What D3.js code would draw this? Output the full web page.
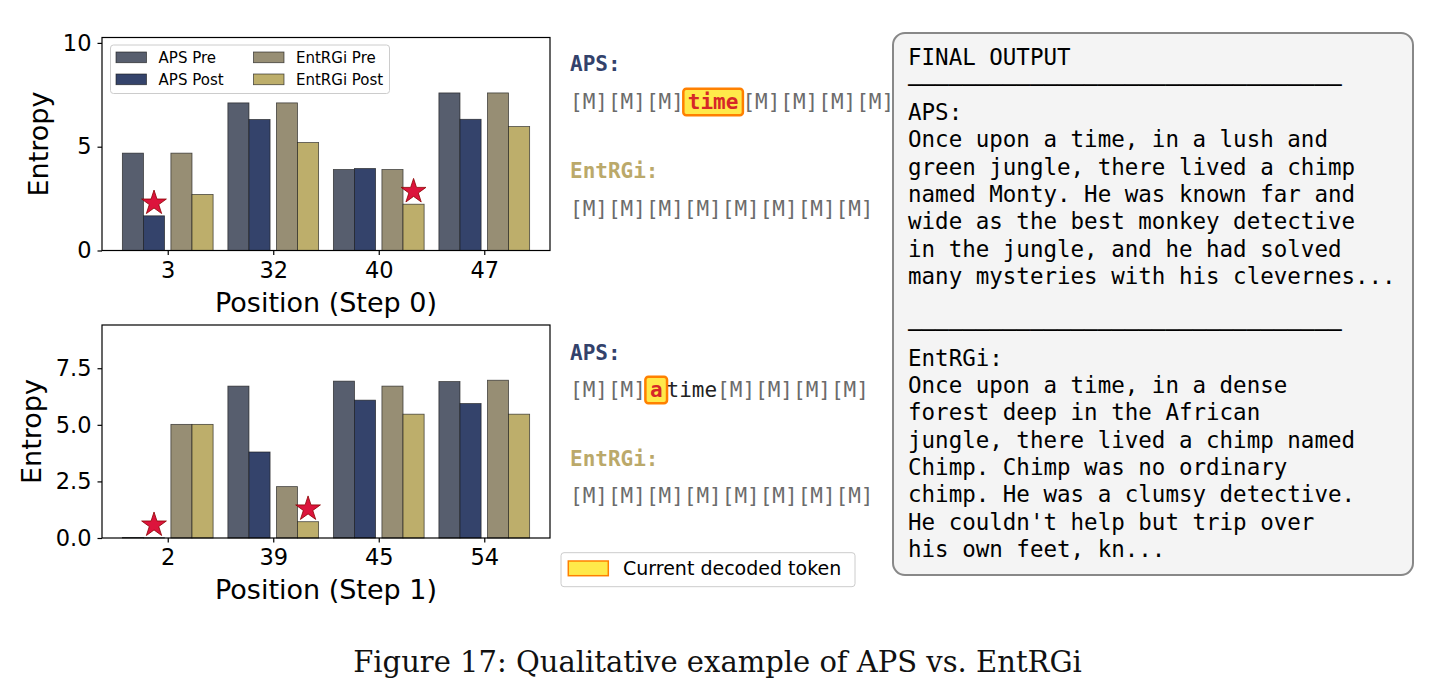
<!DOCTYPE html>
<html>
<head>
<meta charset="utf-8">
<script src="https://cdn.jsdelivr.net/npm/d3@7"></script>
<style>
  html, body { margin: 0; padding: 0; background: #ffffff; }
  svg { display: block; }
</style>
</head>
<body>
<script>
// ---------------- DATA ----------------
const seriesNames = ["APS Pre", "APS Post", "EntRGi Pre", "EntRGi Post"];
const seriesColors = ["#575e6e", "#34436b", "#978e74", "#bdae6b"];

const step0Positions = ["3", "32", "40", "47"];
const step0ApsPre = [4.69, 7.11, 3.90, 7.59];
const step0ApsPost = [1.67, 6.31, 3.95, 6.32];
const step0EntPre = [4.69, 7.11, 3.90, 7.59];
const step0EntPost = [2.70, 5.20, 2.23, 5.97];
const step0Stars = [[0, 1], [2, 3]];          // [category index, series index]
const step0YTicks = [0, 5, 10];
const step0YTickLabels = ["0", "5", "10"];

const step1Positions = ["2", "39", "45", "54"];
const step1ApsPre = [0.02, 6.71, 6.93, 6.91];
const step1ApsPost = [0.01, 3.80, 6.09, 5.94];
const step1EntPre = [5.02, 2.27, 6.71, 6.97];
const step1EntPost = [5.02, 0.72, 5.47, 5.47];
const step1Stars = [[0, 1], [1, 3]];
const step1YTicks = [0, 2.5, 5, 7.5];
const step1YTickLabels = ["0.0", "2.5", "5.0", "7.5"];

const step0ApsTokens = ["[M]", "[M]", "[M]", "time", "[M]", "[M]", "[M]", "[M]"];
const step0ApsHighlight = 3;
const step0EntTokens = ["[M]", "[M]", "[M]", "[M]", "[M]", "[M]", "[M]", "[M]"];
const step0EntHighlight = -1;
const step1ApsTokens = ["[M]", "[M]", "a", "time", "[M]", "[M]", "[M]", "[M]"];
const step1ApsHighlight = 2;
const step1EntTokens = ["[M]", "[M]", "[M]", "[M]", "[M]", "[M]", "[M]", "[M]"];
const step1EntHighlight = -1;

const finalOutputLines = [
  "FINAL OUTPUT",
  "────────────────────────────────",
  "APS:",
  "Once upon a time, in a lush and",
  "green jungle, there lived a chimp",
  "named Monty. He was known far and",
  "wide as the best monkey detective",
  "in the jungle, and he had solved",
  "many mysteries with his clevernes...",
  "",
  "────────────────────────────────",
  "EntRGi:",
  "Once upon a time, in a dense",
  "forest deep in the African",
  "jungle, there lived a chimp named",
  "Chimp. Chimp was no ordinary",
  "chimp. He was a clumsy detective.",
  "He couldn't help but trip over",
  "his own feet, kn..."
];

const captionText = "Figure 17: Qualitative example of APS vs. EntRGi";
const legendTokenLabel = "Current decoded token";

// ---------------- DRAW ----------------
const W = 1429, H = 696;
const svg = d3.select("body").append("svg").attr("width", W).attr("height", H);

const SANS = "DejaVu Sans";
const MONO = "DejaVu Sans Mono";
const barOffsets = [-0.33, -0.13, 0.13, 0.33];
const barWidth = 0.2;

function drawChart(cfg) {
  const g = svg.append("g");
  const x = d3.scaleLinear().domain([-0.623, 3.623]).range([102, 550]);
  const y = d3.scaleLinear().domain([0, cfg.ymax]).range([cfg.bottom, cfg.top]);
  const series = [cfg.apsPre, cfg.apsPost, cfg.entPre, cfg.entPost];

  series.forEach((vals, s) => {
    g.selectAll(null).data(vals).enter().append("rect")
      .attr("x", (d, i) => x(i + barOffsets[s] - barWidth / 2))
      .attr("width", (d, i) => x(i + barOffsets[s] + barWidth / 2) - x(i + barOffsets[s] - barWidth / 2))
      .attr("y", d => y(d))
      .attr("height", d => y(0) - y(d))
      .attr("fill", seriesColors[s])
      .attr("stroke", "#1a1a1a")
      .attr("stroke-opacity", 0.75)
      .attr("stroke-width", 0.8);
  });

  // stars
  const star = d3.symbol().type(d3.symbolStar).size(190);
  g.selectAll(null).data(cfg.stars).enter().append("path")
    .attr("d", star)
    .attr("transform", d => {
      const v = series[d[1]][d[0]];
      return `translate(${x(d[0] + barOffsets[d[1]])},${y(v + 0.06 * cfg.ymax)})`;
    })
    .attr("fill", "#dc143c")
    .attr("stroke", "#8b0000")
    .attr("stroke-width", 0.8);

  // frame
  g.append("rect")
    .attr("x", 102).attr("y", cfg.top)
    .attr("width", 448).attr("height", cfg.bottom - cfg.top)
    .attr("fill", "none").attr("stroke", "#000").attr("stroke-width", 1.2);

  // axes
  const xAxis = d3.axisBottom(x).tickValues([0, 1, 2, 3])
    .tickFormat(i => cfg.labels[i]).tickSize(4.5).tickPadding(7);
  const gx = g.append("g").attr("transform", `translate(0,${cfg.bottom})`).call(xAxis);
  const yAxis = d3.axisLeft(y).tickValues(cfg.yticks)
    .tickFormat((d, i) => cfg.yticklabels[i]).tickSize(4.5).tickPadding(6);
  const gy = g.append("g").attr("transform", `translate(102,0)`).call(yAxis);
  [gx, gy].forEach(a => {
    a.select(".domain").remove();
    a.selectAll("line").attr("stroke", "#000").attr("stroke-width", 1.2);
    a.selectAll("text").attr("font-family", SANS).attr("font-size", 22.5).attr("fill", "#000");
  });

  g.append("text")
    .attr("x", 326).attr("y", cfg.bottom + 61)
    .attr("text-anchor", "middle")
    .attr("font-family", SANS).attr("font-size", 27).attr("fill", "#000")
    .text(cfg.xlabel);
  g.append("text")
    .attr("transform", `translate(${cfg.ylabelX},${(cfg.top + cfg.bottom) / 2}) rotate(-90)`)
    .attr("text-anchor", "middle")
    .attr("font-family", SANS).attr("font-size", 27).attr("fill", "#000")
    .text("Entropy");

  if (cfg.legend) {
    const lg = g.append("g");
    lg.append("rect").attr("x", 110.5).attr("y", 45).attr("width", 279).attr("height", 48.5)
      .attr("rx", 3).attr("fill", "#fff").attr("fill-opacity", 0.85)
      .attr("stroke", "#cccccc").attr("stroke-width", 1);
    const cols = [116, 253.5], rows = [52, 74];
    const textX = [158.6, 296];
    [[0, 0], [0, 1], [1, 0], [1, 1]].forEach(([c, r], s) => {
      lg.append("rect").attr("x", cols[c]).attr("y", rows[r]).attr("width", 30.5).attr("height", 10.7)
        .attr("fill", seriesColors[s]).attr("stroke", "#1a1a1a").attr("stroke-opacity", 0.75).attr("stroke-width", 0.8);
      lg.append("text").attr("x", textX[c]).attr("y", rows[r] + 5.35 + 5.4)
        .attr("font-family", SANS).attr("font-size", 15).attr("fill", "#000")
        .text(seriesNames[s]);
    });
  }
}

drawChart({
  top: 37.5, bottom: 250.5, ymax: 10.26,
  apsPre: step0ApsPre, apsPost: step0ApsPost, entPre: step0EntPre, entPost: step0EntPost,
  stars: step0Stars, labels: step0Positions, yticks: step0YTicks, yticklabels: step0YTickLabels,
  xlabel: "Position (Step 0)", ylabelX: 48, legend: true
});
drawChart({
  top: 325, bottom: 538, ymax: 9.41,
  apsPre: step1ApsPre, apsPost: step1ApsPost, entPre: step1EntPre, entPost: step1EntPost,
  stars: step1Stars, labels: step1Positions, yticks: step1YTicks, yticklabels: step1YTickLabels,
  xlabel: "Position (Step 1)", ylabelX: 41, legend: false
});

// ---------------- token panels ----------------
function drawTokens(x0, centerY, tokens, hl) {
  const g = svg.append("g");
  let cx = x0;
  const fs = 21, pad = 4;
  const baseline = centerY + 7;
  tokens.forEach((t, i) => {
    const isHl = i === hl;
    const isMask = t === "[M]";
    if (isHl) cx += pad;
    const txt = g.append("text")
      .attr("x", cx).attr("y", baseline)
      .attr("font-family", MONO).attr("font-size", fs)
      .attr("font-weight", isHl ? "bold" : "normal")
      .attr("fill", isHl ? "#d62728" : (isMask ? "#6b6b6b" : "#222222"))
      .attr("xml:space", "preserve")
      .text(t);
    const w = txt.node().getComputedTextLength();
    if (isHl) {
      g.insert("rect", "text")
        .attr("x", cx - pad - 0.5).attr("y", centerY - 13.3)
        .attr("width", w + 2 * pad + 1).attr("height", 26.6)
        .attr("rx", 3)
        .attr("fill", "#ffe94a").attr("stroke", "#ff8000").attr("stroke-width", 2.5);
      cx += w + pad;
    } else {
      cx += w;
    }
  });
}

function drawMethodLabel(x, centerY, label, color) {
  svg.append("text").attr("x", x).attr("y", centerY + 7.6)
    .attr("font-family", MONO).attr("font-size", 21).attr("font-weight", "bold")
    .attr("fill", color).text(label);
}

const apsColor = "#33426b", entColor = "#bba96a";
drawMethodLabel(570, 63.5, "APS:", apsColor);
drawTokens(570, 102, step0ApsTokens, step0ApsHighlight);
drawMethodLabel(570, 170, "EntRGi:", entColor);
drawTokens(570, 208.5, step0EntTokens, step0EntHighlight);

drawMethodLabel(570, 352.5, "APS:", apsColor);
drawTokens(570, 390, step1ApsTokens, step1ApsHighlight);
drawMethodLabel(570, 458.5, "EntRGi:", entColor);
drawTokens(570, 495.5, step1EntTokens, step1EntHighlight);

// legend for decoded token
const tl = svg.append("g");
tl.append("rect").attr("x", 561).attr("y", 552.7).attr("width", 294).attr("height", 34)
  .attr("rx", 3).attr("fill", "#fff").attr("stroke", "#cccccc").attr("stroke-width", 1);
tl.append("rect").attr("x", 568.3).attr("y", 561).attr("width", 40).attr("height", 14.7)
  .attr("fill", "#ffe94a").attr("stroke", "#ff8000").attr("stroke-width", 1.5);
tl.append("text").attr("x", 623).attr("y", 568.3 + 6.9)
  .attr("font-family", SANS).attr("font-size", 19).attr("fill", "#000")
  .text(legendTokenLabel);

// ---------------- final output box ----------------
const fb = svg.append("g");
fb.append("rect").attr("x", 893).attr("y", 33).attr("width", 520).attr("height", 542)
  .attr("rx", 12).attr("fill", "#f4f4f4").attr("stroke", "#888888").attr("stroke-width", 2);
fb.selectAll(null).data(finalOutputLines).enter().append("text")
  .attr("x", 908).attr("y", (d, i) => 57.2 + i * 27.3 + 8.2)
  .attr("font-family", MONO).attr("font-size", 22.5).attr("fill", "#000")
  .attr("xml:space", "preserve")
  .text(d => d);

// ---------------- caption ----------------
svg.append("text").attr("x", 717.5).attr("y", 672)
  .attr("text-anchor", "middle")
  .attr("font-family", "DejaVu Serif").attr("font-size", 29).attr("font-weight", 300)
  .attr("fill", "#111").text(captionText);
</script>
</body>
</html>
